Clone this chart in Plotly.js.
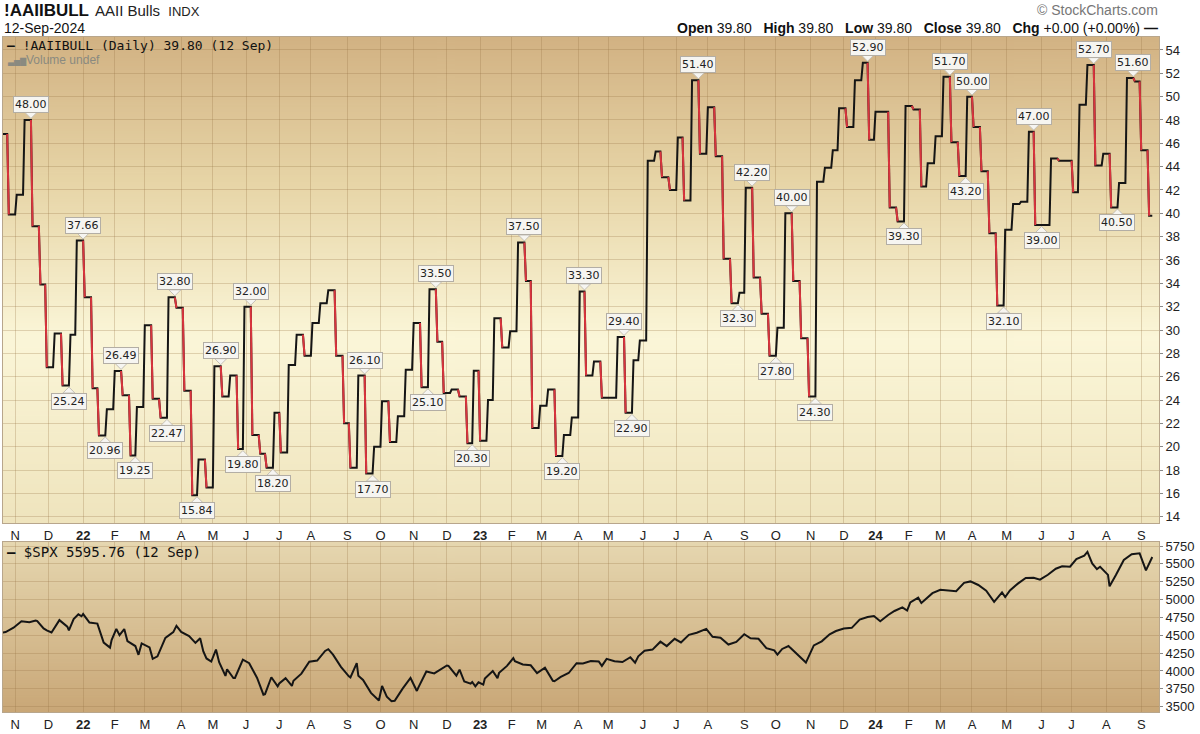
<!DOCTYPE html>
<html>
<head>
<meta charset="utf-8">
<script src="https://cdn.plot.ly/plotly-3.0.1.min.js"></script>
<style>
html,body{margin:0;padding:0;background:#fff;}
#chart{width:1200px;height:734px;}
</style>
</head>
<body>
<div id="chart"></div>
<script>
// ---------------- DATA ----------------
// AAII bullish % (weekly survey, first survey dated 2021-10-19, one per week)
const aaiiFirstSurvey = '2021-10-19';
const aaiiLastDay = '2024-09-12';
const aaiiBull = [
  46.8, 39.9, 41.6, 48.00, 38.9, 33.9, 26.8, 29.7, 25.24, 29.6,
  37.66, 32.8, 25.0, 20.96, 23.2, 26.49, 24.4, 19.25, 23.4, 30.4,
  24.1, 22.47, 32.80, 31.9, 24.8, 15.84, 18.9, 16.5, 26.90, 24.3,
  26.1, 19.80, 32.00, 21.0, 19.4, 18.20, 22.9, 19.5, 27.0, 29.6,
  27.8, 30.6, 32.3, 33.4, 27.8, 22.0, 18.2, 26.10, 17.70, 20.0,
  23.9, 20.4, 22.6, 26.6, 30.6, 25.10, 33.50, 29.0, 24.6, 24.9,
  24.3, 20.30, 26.5, 20.5, 24.0, 31.0, 28.5, 29.9, 37.50, 34.2,
  21.6, 23.5, 24.9, 19.20, 21.0, 22.5, 33.30, 26.1, 27.3, 24.2,
  24.2, 29.40, 22.90, 27.4, 29.1, 44.5, 45.3, 43.1, 42.0, 46.5,
  41.1, 51.40, 45.1, 49.1, 44.9, 36.1, 32.30, 33.2, 42.20, 34.5,
  31.4, 27.80, 30.2, 40.00, 34.2, 29.3, 24.30, 42.7, 43.9, 45.4,
  49.0, 47.4, 51.4, 52.90, 46.3, 48.7, 48.7, 40.5, 39.30, 49.2,
  48.9, 42.3, 44.3, 46.6, 51.70, 46.1, 43.20, 50.00, 47.4, 43.6,
  38.3, 32.10, 38.6, 40.8, 41.0, 47.00, 39.0, 39.0, 44.7, 44.5,
  44.5, 41.8, 49.3, 52.70, 44.1, 45.1, 40.50, 42.6, 51.60, 51.3,
  45.4, 39.80
];
// labelled extremes: index into aaiiBull
const peakIdx   = [3, 10, 15, 22, 28, 32, 47, 56, 68, 76, 81, 91, 98, 103, 113, 124, 127, 135, 143, 148];
const troughIdx = [8, 13, 17, 21, 25, 31, 35, 48, 55, 61, 73, 82, 96, 101, 106, 118, 126, 131, 136, 146];

// S&P 500
const spxDates = [
 '2021-10-20','2021-10-22','2021-10-29','2021-11-05','2021-11-12','2021-11-18','2021-11-19','2021-11-26','2021-11-30','2021-12-03',
 '2021-12-10','2021-12-17','2021-12-20','2021-12-23','2021-12-29','2021-12-31',
 '2022-01-03','2022-01-07','2022-01-14','2022-01-21','2022-01-27','2022-01-28','2022-02-02','2022-02-04','2022-02-09','2022-02-11',
 '2022-02-18','2022-02-23','2022-02-25','2022-03-04','2022-03-08','2022-03-11','2022-03-18','2022-03-25','2022-03-29','2022-04-01',
 '2022-04-08','2022-04-14','2022-04-20','2022-04-22','2022-04-26','2022-04-29','2022-05-04','2022-05-06','2022-05-12','2022-05-13',
 '2022-05-19','2022-05-20','2022-05-27','2022-06-03','2022-06-10','2022-06-16','2022-06-17','2022-06-24','2022-06-30','2022-07-01',
 '2022-07-08','2022-07-14','2022-07-15','2022-07-22','2022-07-29','2022-08-05','2022-08-12','2022-08-16','2022-08-19','2022-08-26',
 '2022-09-02','2022-09-06','2022-09-12','2022-09-13','2022-09-16','2022-09-23','2022-09-30','2022-10-04','2022-10-07','2022-10-12',
 '2022-10-14','2022-10-21','2022-10-28','2022-11-03','2022-11-04','2022-11-10','2022-11-11','2022-11-18','2022-11-25','2022-12-01',
 '2022-12-02','2022-12-09','2022-12-13','2022-12-16','2022-12-22','2022-12-23','2022-12-28','2022-12-30',
 '2023-01-05','2023-01-06','2023-01-13','2023-01-19','2023-01-20','2023-01-27','2023-02-02','2023-02-03','2023-02-10','2023-02-17',
 '2023-02-24','2023-03-03','2023-03-10','2023-03-13','2023-03-17','2023-03-24','2023-03-31','2023-04-06','2023-04-14','2023-04-21',
 '2023-04-25','2023-04-28','2023-05-05','2023-05-12','2023-05-19','2023-05-24','2023-05-26','2023-06-02','2023-06-09','2023-06-16',
 '2023-06-23','2023-06-30','2023-07-07','2023-07-14','2023-07-21','2023-07-28','2023-07-31','2023-08-04','2023-08-11','2023-08-18',
 '2023-08-25','2023-09-01','2023-09-08','2023-09-15','2023-09-22','2023-09-29','2023-10-03','2023-10-06','2023-10-12','2023-10-13',
 '2023-10-20','2023-10-27','2023-11-03','2023-11-10','2023-11-17','2023-11-24','2023-12-01','2023-12-08','2023-12-15','2023-12-22',
 '2023-12-29',
 '2024-01-05','2024-01-12','2024-01-19','2024-01-26','2024-01-31','2024-02-02','2024-02-09','2024-02-13','2024-02-16','2024-02-23',
 '2024-03-01','2024-03-08','2024-03-15','2024-03-22','2024-03-28','2024-04-05','2024-04-12','2024-04-19','2024-04-26','2024-04-30',
 '2024-05-03','2024-05-10','2024-05-17','2024-05-24','2024-05-31','2024-06-07','2024-06-14','2024-06-21','2024-06-28','2024-07-05',
 '2024-07-12','2024-07-16','2024-07-19','2024-07-24','2024-07-26','2024-08-02','2024-08-05','2024-08-09','2024-08-16','2024-08-23',
 '2024-08-30','2024-09-06','2024-09-12'
];
const spxClose = [
 4536,4545,4605,4697,4683,4705,4698,4595,4567,4538,
 4712,4621,4568,4726,4793,4766,
 4797,4677,4663,4398,4327,4432,4589,4501,4587,4419,
 4349,4226,4385,4329,4170,4204,4463,4543,4632,4546,
 4488,4393,4459,4272,4175,4132,4300,4123,3930,4024,
 3901,3901,4158,4109,3901,3667,3675,3912,3785,3825,
 3899,3790,3863,3962,4130,4145,4280,4305,4228,4058,
 3924,3909,4110,3932,3873,3693,3586,3791,3640,3577,
 3583,3752,3901,3720,3771,3956,3993,3965,4026,4077,
 4072,3934,4019,3852,3822,3845,3783,3840,
 3808,3895,3999,3899,3973,4071,4180,4136,4090,4079,
 3970,4046,3862,3856,3917,3971,4109,4105,4138,4133,
 4071,4169,4136,4124,4192,4115,4205,4282,4299,4410,
 4348,4450,4399,4505,4536,4582,4589,4478,4464,4370,
 4406,4515,4457,4450,4320,4288,4229,4308,4349,4327,
 4224,4117,4358,4415,4514,4559,4595,4604,4719,4755,
 4770,
 4697,4784,4840,4891,4846,4959,5027,4953,5006,5089,
 5137,5124,5117,5234,5254,5204,5123,4967,5100,5036,
 5128,5223,5303,5305,5278,5347,5432,5465,5460,5567,
 5615,5667,5505,5427,5459,5346,5186,5344,5554,5635,
 5648,5408,5596
];

// US market holidays inside the window (removed from the trading-day axis)
const marketHolidays = [
 '2021-11-25','2021-12-24',
 '2022-01-17','2022-02-21','2022-04-15','2022-05-30','2022-06-20','2022-07-04','2022-09-05','2022-11-24','2022-12-26',
 '2023-01-02','2023-01-16','2023-02-20','2023-04-07','2023-05-29','2023-06-19','2023-07-04','2023-09-04','2023-11-23','2023-12-25',
 '2024-01-01','2024-01-15','2024-02-19','2024-03-29','2024-05-27','2024-06-19','2024-07-04','2024-09-02'
];

const monthTickDates = ['2021-11-01','2021-12-01','2022-01-03','2022-02-01','2022-03-01','2022-04-01','2022-05-02','2022-06-01','2022-07-01','2022-08-01','2022-09-01','2022-10-03','2022-11-01','2022-12-01','2023-01-03','2023-02-01','2023-03-01','2023-04-03','2023-05-01','2023-06-01','2023-07-03','2023-08-01','2023-09-01','2023-10-02','2023-11-01','2023-12-01','2024-01-02','2024-02-01','2024-03-01','2024-04-01','2024-05-01','2024-06-03','2024-07-01','2024-08-01','2024-09-03'];
const monthTickLabels = ['N','D','<b>22</b>','F','M','A','M','J','J','A','S','O','N','D','<b>23</b>','F','M','A','M','J','J','A','S','O','N','D','<b>24</b>','F','M','A','M','J','J','A','S'];

const aaiiTicks = [14,16,18,20,22,24,26,28,30,32,34,36,38,40,42,44,46,48,50,52,54];
const spxTicks = [3500,3750,4000,4250,4500,4750,5000,5250,5500,5750];

// ---------------- HELPERS ----------------
const DAY = 86400000;
const hol = new Set(marketHolidays);
function fmt(t){ return new Date(t).toISOString().slice(0,10); }
function isTD(t){ const d=new Date(t).getUTCDay(); return d!==0 && d!==6 && !hol.has(fmt(t)); }
function nextTD(t){ while(!isTD(t)) t+=DAY; return t; }
function prevTD(t){ t-=DAY; while(!isTD(t)) t-=DAY; return t; }

const t0 = Date.parse(aaiiFirstSurvey+'T00:00:00Z');
const surveyT = aaiiBull.map((v,i)=> nextTD(t0 + i*7*DAY));
const holdEnd = surveyT.map((t,i)=> i < surveyT.length-1 ? prevTD(surveyT[i+1]) : Date.parse(aaiiLastDay+'T00:00:00Z'));

// black step line
const bx=[], by=[];
aaiiBull.forEach((v,i)=>{ bx.push(fmt(surveyT[i])); by.push(v); bx.push(fmt(holdEnd[i])); by.push(v); });
// red falling transitions
const rx=[], ry=[];
for(let i=0;i<aaiiBull.length-1;i++){
  if(aaiiBull[i+1] < aaiiBull[i]){
    rx.push(fmt(holdEnd[i]), fmt(surveyT[i+1]), null);
    ry.push(aaiiBull[i], aaiiBull[i+1], null);
  }
}

// ---------------- LAYOUT GEOMETRY ----------------
const W=1200, H=734, L=3, R=1159, T=37, B=712;
const topBottomPx = 523, botTopPx = 542;
const P = x => (x-L)/(R-L);
const Q = y => (B-y)/(B-T);

function gradient(stops){
  const c=document.createElement('canvas'); c.width=4; c.height=400;
  const g=c.getContext('2d'); const lg=g.createLinearGradient(0,0,0,400);
  stops.forEach(s=>lg.addColorStop(s[0],s[1])); g.fillStyle=lg; g.fillRect(0,0,4,400);
  return c.toDataURL('image/png');
}
const topGrad = gradient([[0,'#d2b283'],[0.3,'#e7d5a7'],[0.62,'#fbf6d8'],[1,'#efe4bd']]);
const botGrad = gradient([[0,'#e6d7b0'],[1,'#c9a777']]);

const gridCol = 'rgba(150,115,70,0.28)';
const frameCol = '#b8a68c';
const tickFont = {family:'Arial, "Liberation Sans", sans-serif', size:13, color:'#222'};

const xCommon = {
  type:'date',
  range:['2021-10-20 08:00','2024-09-18 06:00'],
  rangebreaks:[{bounds:['sat','mon']},{values:marketHolidays}],
  tickmode:'array', tickvals:monthTickDates, ticktext:monthTickLabels,
  showgrid:true, gridcolor:gridCol, gridwidth:1,
  ticks:'', tickfont:tickFont,
  showline:true, mirror:true, linecolor:frameCol, linewidth:1,
  zeroline:false, fixedrange:true
};

// ---------------- ANNOTATIONS ----------------
const lastV = aaiiBull[aaiiBull.length-1].toFixed(2);
const lastSpx = '5595.76';
const ann = [];
const hdrFont = 'Arial, "Liberation Sans", sans-serif';
const sp = '&nbsp;&nbsp;&nbsp;';
ann.push({xref:'paper',yref:'paper',x:P(2),y:Q(11),xanchor:'left',yanchor:'middle',showarrow:false,
  text:'<b>!AAIIBULL</b>',font:{family:hdrFont,size:17,color:'#111'}});
ann.push({xref:'paper',yref:'paper',x:P(93),y:Q(11),xanchor:'left',yanchor:'middle',showarrow:false,
  text:'AAII Bulls&nbsp;&nbsp;<span style="font-size:13px">INDX</span>',font:{family:hdrFont,size:15,color:'#222'}});
ann.push({xref:'paper',yref:'paper',x:P(2),y:Q(28),xanchor:'left',yanchor:'middle',showarrow:false,
  text:'12-Sep-2024',font:{family:hdrFont,size:14,color:'#111'}});
ann.push({xref:'paper',yref:'paper',x:P(1160),y:Q(10),xanchor:'right',yanchor:'middle',showarrow:false,
  text:'© StockCharts.com',font:{family:hdrFont,size:14,color:'#777'}});
ann.push({xref:'paper',yref:'paper',x:P(1160),y:Q(28),xanchor:'right',yanchor:'middle',showarrow:false,
  text:'<b>Open</b> '+lastV+sp+'<b>High</b> '+lastV+sp+'<b>Low</b> '+lastV+sp+'<b>Close</b> '+lastV+sp+'<b>Chg</b> +0.00 (+0.00%) <b>—</b>',
  font:{family:hdrFont,size:14,color:'#111'}});
ann.push({xref:'paper',yref:'paper',x:P(5),y:Q(46),xanchor:'left',yanchor:'middle',showarrow:false,
  text:'<b>—</b> !AAIIBULL (Daily) '+lastV+' (12 Sep)',font:{family:'"DejaVu Sans Mono", monospace',size:13,color:'#111'}});
ann.push({xref:'paper',yref:'paper',x:P(5),y:Q(60),xanchor:'left',yanchor:'middle',showarrow:false,
  text:'<span style="font-size:8px">▃▅▇</span>Volume undef',font:{family:hdrFont,size:12,color:'#8a8a80'}});
ann.push({xref:'paper',yref:'paper',x:P(5),y:Q(552),xanchor:'left',yanchor:'middle',showarrow:false,
  text:'<b>—</b> $SPX '+lastSpx+' (12 Sep)',font:{family:'"DejaVu Sans Mono", monospace',size:14,color:'#111'}});

const shapes = [];
const boxStyle = {bgcolor:'#f6f5f1', bordercolor:'#b3aea5', borderwidth:1, borderpad:1,
  font:{family:'"DejaVu Sans", Verdana, sans-serif', size:11, color:'#222'}};
function addLabel(i, up){
  const xd = fmt(holdEnd[i]);
  const v = aaiiBull[i];
  ann.push(Object.assign({xref:'x',yref:'y',x:xd,y:v,showarrow:false,text:v.toFixed(2),
    xanchor:'center',yanchor: up?'bottom':'top', yshift: up?7:-7}, boxStyle));
  shapes.push({type:'path',xref:'x',yref:'y',xsizemode:'pixel',ysizemode:'pixel',xanchor:xd,yanchor:v,
    path: up ? 'M-6,7.5L6,7.5L0,1.5Z' : 'M-6,-7.5L6,-7.5L0,-1.5Z',
    fillcolor:'#f6f5f1', line:{color:'#c4bfb5',width:1}, layer:'above'});
}
peakIdx.forEach(i=>addLabel(i,true));
troughIdx.forEach(i=>addLabel(i,false));

// ---------------- TRACES ----------------
const traces = [
  {type:'scatter',mode:'lines',x:bx,y:by,xaxis:'x',yaxis:'y',line:{color:'#151515',width:2},hoverinfo:'skip'},
  {type:'scatter',mode:'lines',x:rx,y:ry,xaxis:'x',yaxis:'y',line:{color:'#d8343d',width:2},connectgaps:false,hoverinfo:'skip'},
  {type:'scatter',mode:'lines',x:spxDates,y:spxClose,xaxis:'x2',yaxis:'y2',line:{color:'#151515',width:2},hoverinfo:'skip'}
];

const layout = {
  width:W, height:H,
  margin:{l:L, r:W-R, t:T, b:H-B, pad:0},
  paper_bgcolor:'#ffffff', plot_bgcolor:'rgba(0,0,0,0)',
  showlegend:false,
  xaxis:Object.assign({},xCommon,{domain:[0,1],anchor:'y'}),
  xaxis2:Object.assign({},xCommon,{domain:[0,1],anchor:'y2',matches:'x'}),
  yaxis:{domain:[Q(topBottomPx),1],anchor:'x',side:'right',range:[13.46,55.11],
    tickmode:'array',tickvals:aaiiTicks,
    showgrid:true,gridcolor:gridCol,ticks:'outside',ticklen:3,tickcolor:'#888',tickfont:tickFont,
    showline:true,mirror:true,linecolor:frameCol,zeroline:false,fixedrange:true},
  yaxis2:{domain:[0,Q(botTopPx)],anchor:'x2',side:'right',range:[3425,5806],
    tickmode:'array',tickvals:spxTicks,
    showgrid:true,gridcolor:gridCol,ticks:'outside',ticklen:3,tickcolor:'#888',tickfont:tickFont,
    showline:true,mirror:true,linecolor:frameCol,zeroline:false,fixedrange:true},
  images:[
    {source:topGrad,xref:'paper',yref:'paper',x:0,y:1,sizex:1,sizey:1-Q(topBottomPx),xanchor:'left',yanchor:'top',sizing:'stretch',layer:'below'},
    {source:botGrad,xref:'paper',yref:'paper',x:0,y:Q(botTopPx),sizex:1,sizey:Q(botTopPx),xanchor:'left',yanchor:'top',sizing:'stretch',layer:'below'}
  ],
  annotations:ann,
  shapes:shapes
};

Plotly.newPlot('chart', traces, layout, {displayModeBar:false, staticPlot:true});
</script>
</body>
</html>
